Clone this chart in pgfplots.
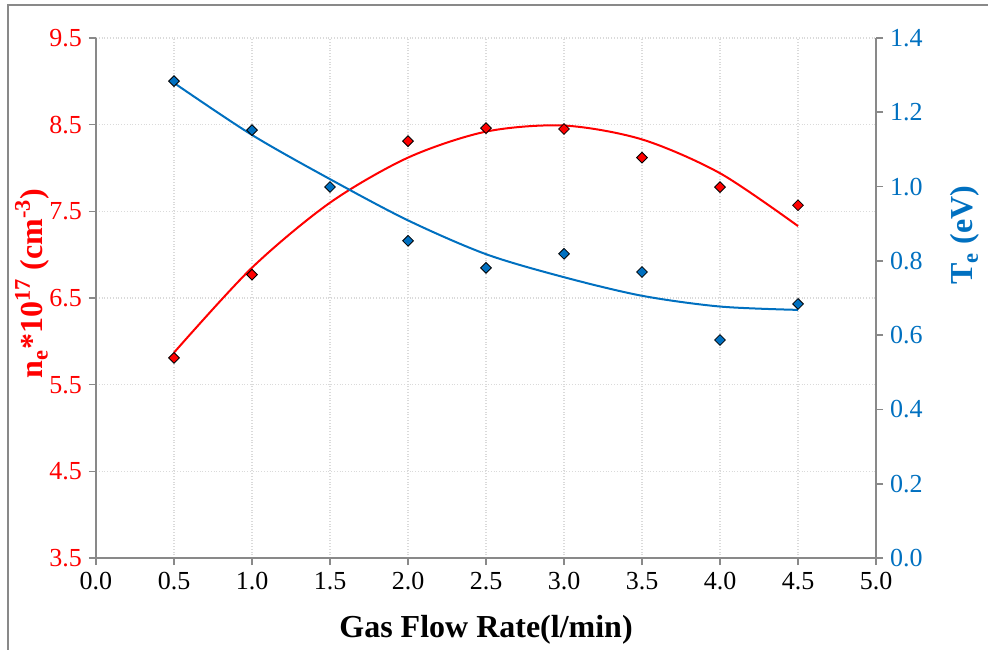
\documentclass[border=0pt]{standalone}
\usepackage{fontspec}
\setmainfont{Liberation Serif}
\usepackage{pgfplots}
\pgfplotsset{compat=1.18}
\definecolor{nred}{RGB}{255,0,0}
\definecolor{tblue}{RGB}{0,112,192}
\definecolor{axgray}{RGB}{137,137,137}
\definecolor{gridgray}{RGB}{218,218,218}

\newcommand{\labfont}{\fontsize{16}{19}\selectfont\bfseries}

\pgfplotsset{
  base/.style={
    scale only axis, width=390pt, height=260pt,
    xmin=0, xmax=5,
    axis line style={axgray, line width=0.8pt},
    tick style={axgray, line width=0.8pt},
    major tick length=3.5pt, tick align=outside,
    ticklabel style={font=\fontsize{13}{15}\selectfont},
    /pgf/number format/fixed,
    /pgf/number format/fixed zerofill,
    /pgf/number format/precision=1,
    /pgf/number format/assume math mode=true,
  },
  dots/.style={only marks, mark=square*, mark size=1.9pt,
    mark options={draw=black, fill=#1, line width=0.4pt, rotate=45}},
  trend/.style={smooth, no markers, draw=#1, line width=1pt},
}

\begin{document}
\begin{tikzpicture}
\useasboundingbox (-48pt,-45.5pt) rectangle (446pt,279pt);
\draw[axgray, line width=1pt] (-44pt,-50pt) -- (-44pt,276.5pt) -- (450pt,276.5pt);

% electron density (left axis)
\begin{axis}[base,
  axis x line*=bottom, axis y line*=left,
  ymin=3.5, ymax=9.5,
  ytick={3.5,4.5,5.5,6.5,7.5,8.5,9.5},
  xtick={0,0.5,1,1.5,2,2.5,3,3.5,4,4.5,5},
  grid=major, grid style={gridgray, densely dotted, line width=0.6pt},
  yticklabel style={text=nred},
  xlabel={Gas Flow Rate(l/min)},
  ylabel={n\textsubscript{e}*10\textsuperscript{17} (cm\textsuperscript{-3})},
  every axis x label/.style={at={(axis description cs:0.5,0)}, anchor=center, yshift=-36pt, font=\labfont},
  every axis y label/.style={at={(axis description cs:-0.082,0.528)}, rotate=90, anchor=center, text=nred, font=\labfont},
]
\addplot[dots=nred] coordinates {
  (0.5,5.81) (1.0,6.77) (2.0,8.31) (2.5,8.46)
  (3.0,8.45) (3.5,8.12) (4.0,7.78) (4.5,7.57)
};
\addplot[trend=nred] coordinates {
  (0.5,5.87) (1.0,6.85) (1.5,7.60) (2.0,8.12) (2.5,8.42)
  (3.0,8.49) (3.5,8.33) (4.0,7.94) (4.5,7.33)
};
\end{axis}

% electron temperature (right axis)
\begin{axis}[base,
  axis x line=none, axis y line*=right,
  ymin=0, ymax=1.4,
  ytick={0,0.2,0.4,0.6,0.8,1.0,1.2,1.4},
  yticklabel style={text=tblue},
  ylabel={T\textsubscript{e} (eV)},
  every axis y label/.style={at={(axis description cs:1.114,0.621)}, rotate=90, anchor=center, text=tblue, font=\labfont},
]
\addplot[dots=tblue] coordinates {
  (0.5,1.284) (1.0,1.152) (1.5,0.999) (2.0,0.854) (2.5,0.781)
  (3.0,0.819) (3.5,0.770) (4.0,0.587) (4.5,0.684)
};
\addplot[trend=tblue] coordinates {
  (0.5,1.279) (1.0,1.139) (1.5,1.020) (2.0,0.909) (2.5,0.818)
  (3.0,0.756) (3.5,0.706) (4.0,0.677) (4.5,0.668)
};
\end{axis}
\end{tikzpicture}
\end{document}
